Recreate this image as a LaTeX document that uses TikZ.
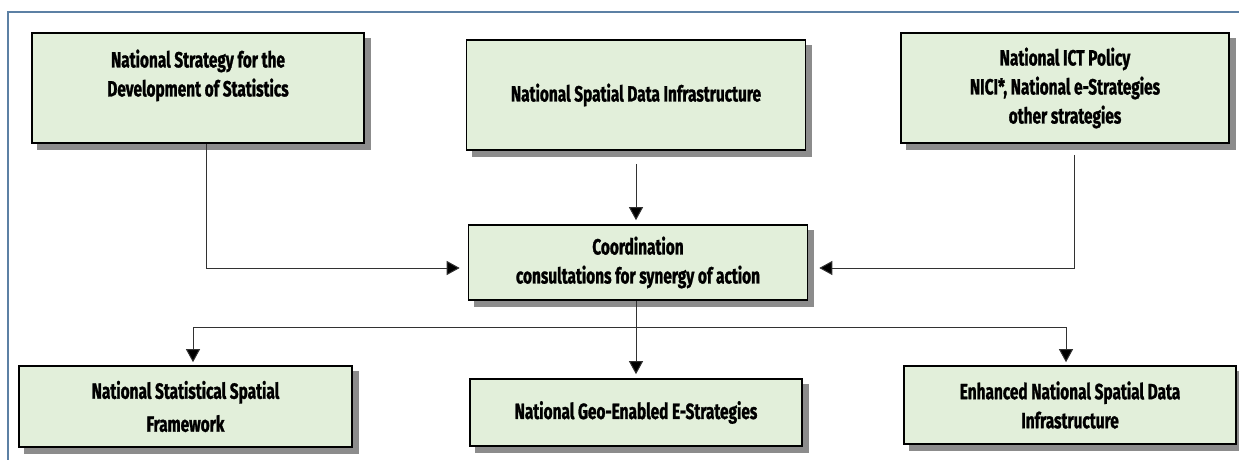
\documentclass[tikz,border=0pt]{standalone}
\usepackage{fontspec}
\setmainfont[FakeStretch=0.70, BoldFeatures={FakeBold=1.2}]{Fira Sans}
\usetikzlibrary{arrows.meta}

\definecolor{boxgreen}{RGB}{226,239,218}
\definecolor{framebl}{RGB}{92,128,164}
\definecolor{linegray}{RGB}{50,50,50}
\definecolor{shadowgray}{RGB}{140,140,140}

\tikzset{
  box/.style={draw=black, line width=1.6pt, fill=boxgreen, align=center,
    inner sep=0pt, font=\bfseries\fontsize{22}{29}\selectfont},
  shade box/.style={fill=shadowgray, draw=shadowgray, line width=1.6pt},
  link/.style={draw=linegray, line width=1pt},
  arr/.style={link, -{Triangle[length=13pt,width=14pt,fill=black]}},
}

\begin{document}
\begin{tikzpicture}[x=1pt, y=-1pt]
    \useasboundingbox (0,0) rectangle (1239,460);
    \draw[framebl, line width=1.2pt] (8,460) -- (8,12) -- (1239,12);

    % shadows (left, top, right, bottom of each box)
    \foreach \l/\t/\r/\b in {32/33/364/143, 466.5/40/805.5/150, 901/33/1229/143,
        468.5/225/807.5/300, 19/366/352/447, 470/379/802/446, 904/366/1236/444}
        \path[shade box] (\l+6,\t+6) rectangle (\r+6,\b+6);

    % top row
    \node[box, minimum width=332pt, minimum height=110pt, text depth=30pt] (nsds) at (198,88)
        {National Strategy for the\\Development of Statistics};
    \node[box, minimum width=339pt, minimum height=110pt] (nsdi) at (636,95)
        {National Spatial Data Infrastructure};
    \node[box, minimum width=328pt, minimum height=110pt] (ict) at (1065,88)
        {National ICT Policy\\NICI*, National e-Strategies\\other strategies};

    % middle
    \node[box, minimum width=339pt, minimum height=75pt] (coord) at (638,262.5)
        {Coordination\\consultations for synergy of action};

    % bottom row
    \node[box, minimum width=333pt, minimum height=81pt] (nssf) at (185.5,406.5)
        {National Statistical Spatial\\[4pt]Framework};
    \node[box, minimum width=332pt, minimum height=67pt] (geo) at (636,412.5)
        {National Geo-Enabled E-Strategies};
    \node[box, minimum width=332pt, minimum height=78pt] (ensdi) at (1070,405)
        {Enhanced National Spatial Data\\Infrastructure};

    \coordinate (bus) at (636,327);

    \draw[arr, shorten >=8pt] ([xshift=8pt]nsds.south) |- ([yshift=-5.5pt]coord.west);
    \draw[arr, shorten <=13pt, shorten >=4pt] (nsdi.south) -- (nsdi.south |- coord.north);
    \draw[arr, shorten <=11pt, shorten >=11pt] ([xshift=9pt]ict.south) |- ([yshift=-5.5pt]coord.east);

    \draw[link] (coord.south -| bus) -- (bus);
    \draw[arr, shorten >=3pt] (bus) -| ([xshift=7.5pt]nssf.north);
    \draw[arr, shorten >=4pt] (bus) -- (geo.north);
    \draw[arr, shorten >=3pt] (bus) -| ([xshift=-4pt]ensdi.north);
\end{tikzpicture}
\end{document}
